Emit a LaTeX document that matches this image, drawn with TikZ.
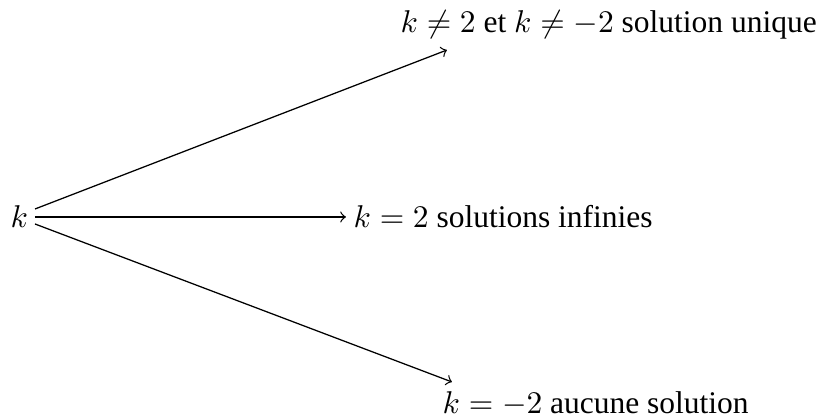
\documentclass[tikz,border=0pt]{standalone}
\usepackage{fontspec}
\setmainfont{Liberation Serif}
\begin{document}
\begin{tikzpicture}[x=0.3175pt,y=-0.3175pt,
  lbl/.style={inner sep=0pt,anchor=base west,font=\fontsize{10}{12}\selectfont},
  arr/.style={->,line width=0.4pt}]
\useasboundingbox (0,0) rectangle (827,417);
\node[lbl] (root) at (10,228) {$k$};
\node[lbl] (top) at (400,33) {$k\neq2$ et $k\neq-2$ solution unique};
\node[lbl] (mid) at (353,228) {$k=2$ solutions infinies};
\node[lbl] (bot) at (442,414) {$k=-2$ aucune solution};
\coordinate (s1) at (35,209);
\coordinate (s2) at (35,217);
\coordinate (s3) at (35,224);
\coordinate (e1) at (447,50);
\coordinate (e2) at (346,217);
\coordinate (e3) at (452,382);
\draw[arr] (s1) -- (e1);
\draw[arr] (s2) -- (e2);
\draw[arr] (s3) -- (e3);
\end{tikzpicture}
\end{document}
